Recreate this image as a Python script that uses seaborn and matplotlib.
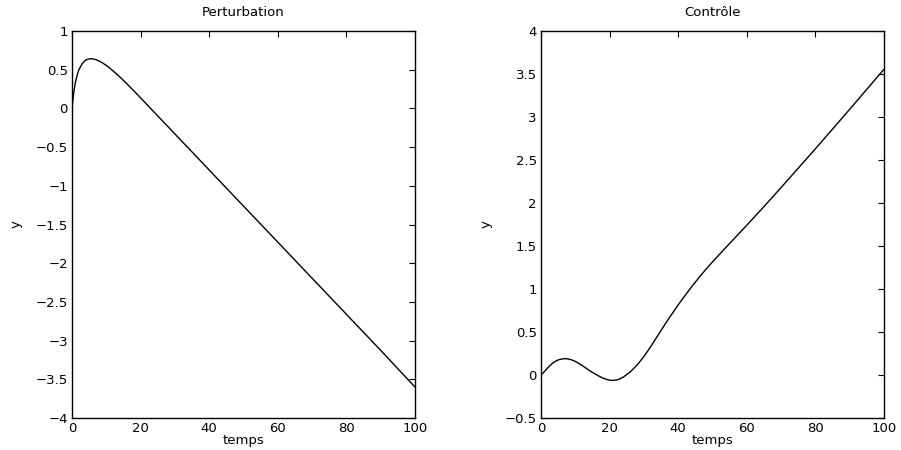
import matplotlib
matplotlib.use("Agg")
import matplotlib.pyplot as plt
import seaborn as sns
import pandas as pd

# Perturbation curve
t_pert = [0, 0.5, 1, 1.5, 2, 3, 4, 5, 5.5, 6, 7, 8, 9, 10, 11, 12, 14, 16, 18, 20, 30, 40, 50, 60, 70, 80, 90, 100]
y_pert = [0, 0.2, 0.34, 0.43, 0.5, 0.58, 0.625, 0.64, 0.642, 0.64, 0.63, 0.61, 0.585, 0.555, 0.521, 0.484, 0.404, 0.318, 0.228, 0.136, -0.33, -0.796, -1.262, -1.728, -2.194, -2.66, -3.126, -3.6]

# Control curve
t_ctrl = [0, 1, 2, 3, 4, 5, 6, 7, 8, 9, 10, 11, 12, 13, 14, 15, 16, 17, 18, 19, 20, 21, 22, 23, 24, 26, 28, 30, 32, 34, 36, 38, 40, 42, 44, 46, 48, 50, 53, 56, 60, 65, 70, 80, 90, 100]
y_ctrl = [0, 0.04, 0.085, 0.125, 0.155, 0.175, 0.186, 0.19, 0.186, 0.175, 0.158, 0.136, 0.11, 0.083, 0.055, 0.03, 0.007, -0.015, -0.035, -0.05, -0.06, -0.063, -0.058, -0.045, -0.024, 0.035, 0.115, 0.215, 0.33, 0.455, 0.58, 0.7, 0.815, 0.925, 1.03, 1.13, 1.225, 1.315, 1.445, 1.572, 1.742, 1.958, 2.18, 2.63, 3.09, 3.555]

titles = ["Perturbation", "Contrôle"]
xlabel = "temps"
ylabel = "y"
xticks = [0, 20, 40, 60, 80, 100]
yticks_pert = [-4, -3.5, -3, -2.5, -2, -1.5, -1, -0.5, 0, 0.5, 1]
yticks_ctrl = [-0.5, 0, 0.5, 1, 1.5, 2, 2.5, 3, 3.5, 4]

sns.set_style("white")
plt.rcParams['font.family'] = ['DejaVu Sans']
plt.rcParams['axes.unicode_minus'] = True
plt.rcParams['text.color'] = 'black'
plt.rcParams['axes.labelcolor'] = 'black'

fig = plt.figure(figsize=(9.01, 4.5), dpi=100)
W, H = 901, 450
ax1 = fig.add_axes([72 / W, 1 - 418 / H, 343 / W, 387 / H])
ax2 = fig.add_axes([541 / W, 1 - 418 / H, 343 / W, 387 / H])

df1 = pd.DataFrame({"t": t_pert, "y": y_pert})
df2 = pd.DataFrame({"t": t_ctrl, "y": y_ctrl})

FS = 9.5
for ax, df, title, yt in [(ax1, df1, titles[0], yticks_pert), (ax2, df2, titles[1], yticks_ctrl)]:
    sns.lineplot(data=df, x="t", y="y", ax=ax, color="black", linewidth=1.0, estimator=None, sort=False)
    ax.set_xlim(0, 100)
    ax.set_ylim(yt[0], yt[-1])
    ax.set_xticks(xticks)
    ax.set_yticks(yt)
    ax.set_xticklabels([f"{v:g}" for v in xticks])
    ax.set_yticklabels([f"{v:g}".replace("-", "\u2212") for v in yt])
    ax.tick_params(direction="in", length=4, width=0.8, top=True, right=True,
                   labelsize=FS, colors="black", pad=3)
    for s in ax.spines.values():
        s.set_visible(True)
        s.set_color("black")
        s.set_linewidth(1.0)
    ax.set_title(title, fontsize=FS, pad=11, color="black")
    ax.set_xlabel(xlabel, fontsize=FS, labelpad=-1, color="black")
    ax.set_ylabel(ylabel, fontsize=FS, labelpad=9, color="black")
    ax.grid(False)

fig.savefig("out.png", dpi=100, facecolor="white")
